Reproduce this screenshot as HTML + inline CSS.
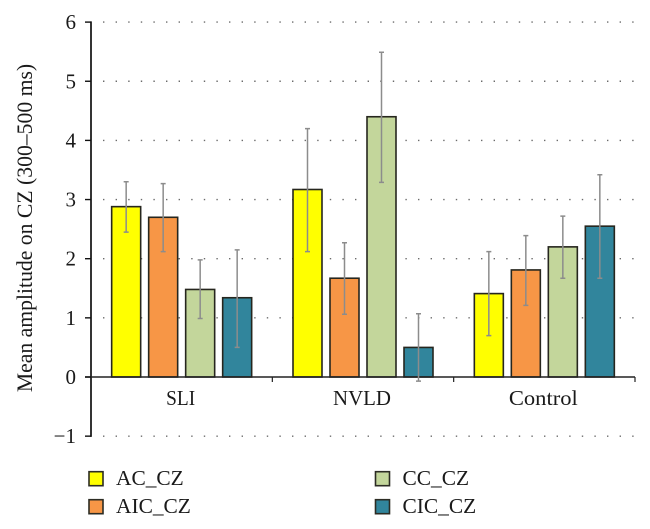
<!DOCTYPE html>
<html>
<head>
<meta charset="utf-8">
<style>
html,body{margin:0;padding:0;background:#fff;}
svg{display:block;}
text{font-family:"Liberation Serif",serif;fill:#1a1a1a;}
</style>
</head>
<body>
<svg id="chart" width="650" height="529" viewBox="0 0 650 529" xmlns="http://www.w3.org/2000/svg"></svg>
<script>
const categories = ["SLI", "NVLD", "Control"];
const seriesNames = ["AC_CZ", "AIC_CZ", "CC_CZ", "CIC_CZ"];
const seriesColors = ["#ffff00", "#f79646", "#c3d69b", "#31859c"];
const acValues = [2.88, 3.17, 1.41];
const aicValues = [2.70, 1.67, 1.81];
const ccValues = [1.48, 4.40, 2.20];
const cicValues = [1.34, 0.50, 2.55];
const acLow = [2.45, 2.12, 0.70];
const aicLow = [2.12, 1.06, 1.21];
const ccLow = [0.99, 3.29, 1.67];
const cicLow = [0.50, -0.07, 1.67];
const acHigh = [3.30, 4.20, 2.12];
const aicHigh = [3.27, 2.27, 2.39];
const ccHigh = [1.98, 5.49, 2.72];
const cicHigh = [2.15, 1.07, 3.42];
const yTicks = [-1, 0, 1, 2, 3, 4, 5, 6];
const yTitle = "Mean amplitude on CZ (300\u2013500 ms)";

const svg = document.getElementById('chart');
const NS = 'http://www.w3.org/2000/svg';
const plotLeft = 91, plotRight = 635, yZero = 377, unit = 59.15;
const groupW = (plotRight - plotLeft) / categories.length;
const barW = 29, pitch = 37;
const allValues = [acValues, aicValues, ccValues, cicValues];
const allLow = [acLow, aicLow, ccLow, cicLow];
const allHigh = [acHigh, aicHigh, ccHigh, cicHigh];

function yPos(v) { return yZero - v * unit; }
function groupCenter(c) { return plotLeft + groupW * (c + 0.5); }
function make(tag, attrs, text) {
  const el = document.createElementNS(NS, tag);
  for (const k in attrs) el.setAttribute(k, attrs[k]);
  if (text !== undefined) el.textContent = text;
  svg.appendChild(el);
  return el;
}

// gridlines
yTicks.forEach(function (t) {
  if (t === 0) return;
  const g = make('line', {x1: plotLeft + 12, x2: plotRight, y1: yPos(t), y2: yPos(t), stroke: '#6b6b6b', 'stroke-width': 1.4, 'stroke-dasharray': '1.4 11.2'});
  
  
});

// bars
allValues.forEach(function (vals, s) {
  vals.forEach(function (v, c) {
    const cx = groupCenter(c) + (s - 1.5) * pitch;
    const top = Math.min(yPos(v), yZero);
    const b = make('rect', {x: cx - barW / 2, y: top, width: barW, height: Math.abs(yPos(v) - yZero), fill: seriesColors[s], stroke: '#26261e', 'stroke-width': 1.6});
    
    
  });
});

// axes
const yAxis = make('line', {x1: plotLeft, x2: plotLeft, y1: yPos(6) - 0.7, y2: yPos(-1) + 0.7, stroke: '#111', 'stroke-width': 1.7});


const xAxis = make('line', {x1: plotLeft - 6, x2: plotRight, y1: yZero, y2: yZero, stroke: '#222', 'stroke-width': 1.4});



yTicks.forEach(function (t) {
  const tick = make('line', {x1: plotLeft - 6, x2: plotLeft, y1: yPos(t), y2: yPos(t), stroke: '#111', 'stroke-width': 1.4});
  
  
  const label = make('text', {x: plotLeft - 15, y: yPos(t) + 7, 'text-anchor': 'end', 'font-size': 21}, t < 0 ? '\u2212' + (-t) : String(t));
  
  
});

const labelWidths = {SLI: 29, NVLD: 58, Control: 69};
categories.forEach(function (name, c) {
  const tx = plotLeft + groupW * (c + 1);
  const tick = make('line', {x1: tx, x2: tx, y1: yZero, y2: yZero + 5, stroke: '#222', 'stroke-width': 1.2});
  
  
  const label = make('text', {x: groupCenter(c) - 1, y: 405, 'text-anchor': 'middle', 'font-size': 21, textLength: labelWidths[name] || 60, lengthAdjust: 'spacingAndGlyphs'}, name);
  
  
});

// error bars
allValues.forEach(function (vals, s) {
  vals.forEach(function (v, c) {
    const cx = groupCenter(c) + (s - 1.5) * pitch;
    const lo = yPos(allLow[s][c]), hi = yPos(allHigh[s][c]);
    const e = make('path', {d: 'M' + (cx - 2.5) + ' ' + hi + 'H' + (cx + 2.5) + 'M' + cx + ' ' + hi + 'V' + lo + 'M' + (cx - 2.5) + ' ' + lo + 'H' + (cx + 2.5), fill: 'none', stroke: '#8c8c8c', 'stroke-width': 1.5});
    
    
  });
});

// y title
const title = make('text', {transform: 'translate(32 228) rotate(-90)', 'text-anchor': 'middle', 'font-size': 21.7}, yTitle);



// legend
const legendCols = [89, 375.5], legendRows = [478.7, 506.7];
seriesNames.forEach(function (name, i) {
  const col = legendCols[Math.floor(i / 2)], row = legendRows[i % 2];
  const sw = make('rect', {x: col, y: row - 7, width: 14, height: 14, fill: seriesColors[i], stroke: '#2c2c24', 'stroke-width': 1.6});
  
  
  const label = make('text', {x: col + 27, y: row + 6.3, 'font-size': 21.4}, name);
  
  
});
</script>
</body>
</html>
